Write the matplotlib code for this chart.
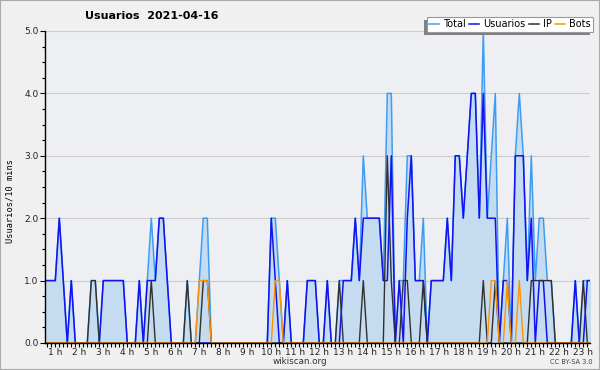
import numpy as np
import matplotlib
matplotlib.use("Agg")
import matplotlib.pyplot as plt
from matplotlib.patches import Rectangle
from matplotlib.lines import Line2D
from matplotlib.ticker import MultipleLocator, FixedLocator

# 10-minute slots, first visible slot is index 3 (00:30)
slot_start = 3

total = [1, 1, 1, 1, 2, 1, 0, 1, 0, 0, 0, 0,
         1, 1, 0, 1, 1, 1, 1, 1, 1, 0, 0, 0,
         1, 0, 1, 2, 1, 2, 2, 1, 0, 0, 0, 0,
         1, 0, 0, 1, 2, 2, 0, 0, 0, 0, 0, 0,
         0, 0, 0, 0, 0, 0, 0, 0, 0, 2, 2, 1,
         0, 1, 0, 0, 0, 0, 1, 1, 1, 0, 0, 1,
         0, 0, 1, 1, 1, 1, 2, 1, 3, 2, 2, 2,
         2, 1, 4, 4, 0, 1, 1, 3, 3, 1, 1, 2,
         0, 1, 1, 1, 1, 2, 1, 3, 3, 2, 3, 4,
         4, 2, 5, 2, 3, 4, 0, 1, 2, 0, 3, 4,
         3, 1, 3, 1, 2, 2, 1, 1, 0, 0, 0, 0,
         0, 1, 0, 1, 1, 1]

usuarios = [1, 1, 1, 1, 2, 1, 0, 1, 0, 0, 0, 0,
            0, 0, 0, 1, 1, 1, 1, 1, 1, 0, 0, 0,
            1, 0, 1, 1, 1, 2, 2, 1, 0, 0, 0, 0,
            0, 0, 0, 0, 0, 0, 0, 0, 0, 0, 0, 0,
            0, 0, 0, 0, 0, 0, 0, 0, 0, 2, 1, 0,
            0, 1, 0, 0, 0, 0, 1, 1, 1, 0, 0, 1,
            0, 0, 0, 1, 1, 1, 2, 1, 2, 2, 2, 2,
            2, 1, 1, 3, 0, 1, 0, 2, 3, 1, 1, 1,
            0, 1, 1, 1, 1, 2, 1, 3, 3, 2, 3, 4,
            4, 2, 4, 2, 2, 2, 0, 1, 1, 0, 3, 3,
            3, 1, 2, 0, 1, 1, 0, 0, 0, 0, 0, 0,
            0, 1, 0, 0, 1, 1]

ip = [0, 0, 0, 0, 0, 0, 0, 0, 0, 0, 0, 0,
      1, 1, 0, 0, 0, 0, 0, 0, 0, 0, 0, 0,
      0, 0, 0, 1, 0, 0, 0, 0, 0, 0, 0, 0,
      1, 0, 0, 0, 1, 1, 0, 0, 0, 0, 0, 0,
      0, 0, 0, 0, 0, 0, 0, 0, 0, 0, 0, 0,
      0, 0, 0, 0, 0, 0, 0, 0, 0, 0, 0, 0,
      0, 0, 1, 0, 0, 0, 0, 0, 1, 0, 0, 0,
      0, 0, 3, 1, 0, 0, 1, 1, 0, 0, 0, 1,
      0, 0, 0, 0, 0, 0, 0, 0, 0, 0, 0, 0,
      0, 0, 1, 0, 0, 1, 0, 0, 0, 0, 0, 0,
      0, 0, 1, 1, 1, 1, 1, 1, 0, 0, 0, 0,
      0, 0, 0, 1, 0, 0]

bots = [0, 0, 0, 0, 0, 0, 0, 0, 0, 0, 0, 0,
        0, 0, 0, 0, 0, 0, 0, 0, 0, 0, 0, 0,
        0, 0, 0, 0, 0, 0, 0, 0, 0, 0, 0, 0,
        0, 0, 0, 1, 1, 1, 0, 0, 0, 0, 0, 0,
        0, 0, 0, 0, 0, 0, 0, 0, 0, 0, 1, 1,
        0, 0, 0, 0, 0, 0, 0, 0, 0, 0, 0, 0,
        0, 0, 0, 0, 0, 0, 0, 0, 0, 0, 0, 0,
        0, 0, 0, 0, 0, 0, 0, 0, 0, 0, 0, 0,
        0, 0, 0, 0, 0, 0, 0, 0, 0, 0, 0, 0,
        0, 0, 0, 0, 1, 1, 0, 0, 1, 0, 0, 1,
        0, 0, 0, 0, 0, 0, 0, 0, 0, 0, 0, 0,
        0, 0, 0, 0, 0, 0]

hour_ticks = list(range(1, 24))
hour_labels = [f"{h} h" for h in hour_ticks]

times = (slot_start + np.arange(len(total))) / 6.0

c_total = "#3d9df5"
c_fill = "#c5dcf0"
c_users = "#1212f2"
c_ip = "#303030"
c_bots = "#ff9400"

fig = plt.figure(figsize=(6, 3.7), dpi=100, facecolor="#f0f0f0")
ax = fig.add_axes([45 / 600, 27 / 370, 545 / 600, 312 / 370])
ax.set_facecolor("#edeff2")

ax.fill_between(times, total, color=c_fill, lw=0, zorder=1)
ax.plot(times, total, color=c_total, lw=1.1, zorder=2)
ax.plot(times, usuarios, color=c_users, lw=1.1, zorder=3)
ax.plot(times, ip, color=c_ip, lw=1.0, zorder=4)
ax.plot(times, bots, color=c_bots, lw=1.0, zorder=5)

ax.set_xlim(3.425 / 6, 139.675 / 6)
ax.set_ylim(0, 5)

ax.yaxis.set_major_locator(MultipleLocator(1))
ax.yaxis.set_minor_locator(MultipleLocator(0.25))
ax.yaxis.set_major_formatter(plt.FuncFormatter(lambda v, p: f"{v:.1f}"))
ax.xaxis.set_major_locator(FixedLocator(hour_ticks))
ax.xaxis.set_minor_locator(MultipleLocator(1 / 6))
ax.set_xticklabels(hour_labels)

ax.grid(axis="y", which="major", color="#cccccc", lw=0.8)
ax.set_axisbelow(True)
for s in ["top", "right"]:
    ax.spines[s].set_visible(False)
for s in ["left", "bottom"]:
    ax.spines[s].set_linewidth(1.0)
    ax.spines[s].set_zorder(6)

ax.tick_params(axis="x", which="both", direction="out", length=3, width=0.8,
               labelsize=6.5, pad=0.5, colors="black")
ax.tick_params(axis="y", which="major", direction="out", length=3.5, width=0.8,
               labelsize=6.5, pad=1)
ax.tick_params(axis="y", which="minor", direction="out", length=2, width=0.8)
for lab in ax.get_xticklabels() + ax.get_yticklabels():
    lab.set_color("#222222")

fig.text(85 / 600, 1 - 16 / 370, "Usuarios  2021-04-16", fontsize=8,
         fontweight="bold", ha="left", va="center")
fig.text(10 / 600, 1 - 201 / 370, "Usuarios/10 mins", rotation=90,
         family="DejaVu Sans Mono", fontsize=6.2, ha="center", va="center")
fig.text(0.5, 1 - 361 / 370, "wikiscan.org", fontsize=6.3, color="#333333",
         ha="center", va="center")
fig.text(571 / 600, 1 - 362 / 370, "CC BY-SA 3.0", fontsize=4.8,
         color="#444444", ha="center", va="center")

handles = [Line2D([], [], color=c, lw=1.1) for c in [c_total, c_users, c_ip, c_bots]]
leg = fig.legend(handles, ["Total", "Usuarios", "IP", "Bots"], ncol=4,
                 loc="upper right", bbox_to_anchor=(593 / 600, 1 - 17 / 370),
                 fontsize=7, frameon=True, fancybox=False, edgecolor="#999999",
                 facecolor="white", framealpha=1, handlelength=1.0,
                 handletextpad=0.4, columnspacing=0.4, borderpad=0.25,
                 borderaxespad=0)
leg.get_frame().set_linewidth(0.8)
leg.set_zorder(10)

fig.canvas.draw()
bb = leg.get_window_extent()
shadow = Rectangle((bb.x0 - 3, bb.y0 - 3), bb.width, bb.height,
                   transform=None, facecolor="#808080", edgecolor="none",
                   zorder=9)
fig.add_artist(shadow)

fig.add_artist(Rectangle((0, 0), 1, 1, transform=fig.transFigure, fill=False,
                         edgecolor="#aaaaaa", lw=1.5, zorder=20))

fig.savefig("out.png", dpi=100, facecolor=fig.get_facecolor())
